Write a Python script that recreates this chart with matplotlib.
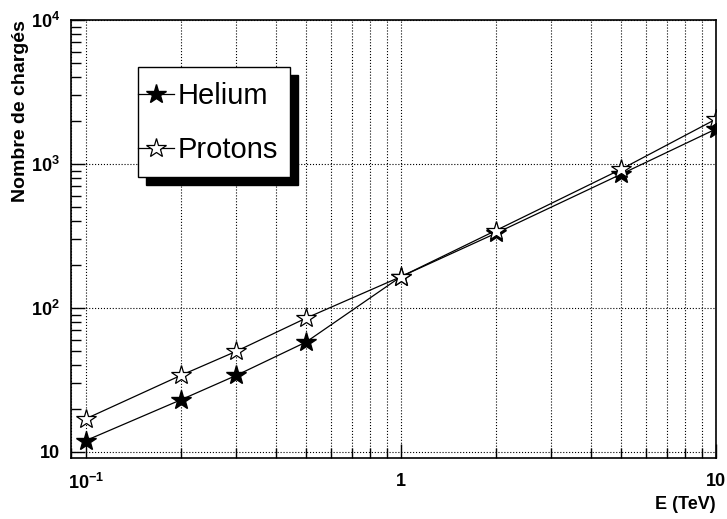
import numpy as np
import matplotlib.pyplot as plt
from matplotlib.patches import Rectangle
from matplotlib.ticker import FixedLocator, NullFormatter, LogLocator

plt.rcParams['font.family'] = ['Liberation Sans', 'DejaVu Sans']
plt.rcParams['mathtext.fontset'] = 'custom'
plt.rcParams['mathtext.bf'] = 'Liberation Sans:bold'
plt.rcParams['mathtext.rm'] = 'Liberation Sans:bold'

# data
energy = [0.1, 0.2, 0.3, 0.5, 1.0, 2.0, 5.0, 10.0]
helium = [12, 23, 34, 58, 165, 330, 850, 1750]
protons = [17, 34, 50, 85, 165, 345, 920, 2050]

x_ticks = [0.1, 1, 10]
x_ticklabels = ['$\\mathrm{10^{-1}}$', '1', '10']
y_ticks = [10, 100, 1000, 10000]
y_ticklabels = ['10', '$\\mathrm{10^{2}}$', '$\\mathrm{10^{3}}$', '$\\mathrm{10^{4}}$']

fig = plt.figure(figsize=(7.27, 5.19), dpi=100)
ax = fig.add_axes([71 / 727, 61 / 519, 645 / 727, 438 / 519])

ax.plot(energy, helium, '-', color='black', lw=0.9, marker='*', ms=15,
        mfc='black', mec='black', label='Helium')
ax.plot(energy, protons, '-', color='black', lw=0.9, marker='*', ms=15,
        mfc='white', mec='black', mew=0.9, label='Protons')

ax.set_xscale('log')
ax.set_yscale('log')
ax.set_xlim(0.0897, 10)
ax.set_ylim(9.08, 10000)

ax.xaxis.set_major_locator(FixedLocator(x_ticks))
ax.set_xticklabels(x_ticklabels, fontsize=13, fontweight='bold')
ax.xaxis.set_minor_locator(LogLocator(base=10, subs=np.arange(2, 10)))
ax.xaxis.set_minor_formatter(NullFormatter())
ax.yaxis.set_major_locator(FixedLocator(y_ticks))
ax.set_yticklabels(y_ticklabels, fontsize=13, fontweight='bold')
ax.yaxis.set_minor_locator(LogLocator(base=10, subs=np.arange(2, 10)))
ax.yaxis.set_minor_formatter(NullFormatter())

ax.tick_params(which='both', direction='in', top=False, right=False)
ax.tick_params(which='major', length=10, width=1, pad=11)
ax.tick_params(which='minor', length=7, width=1)
ax.tick_params(axis='y', which='major', pad=8)

ax.grid(True, which='major', axis='both', ls=':', color='black', lw=0.8)
ax.grid(True, which='minor', axis='x', ls=':', color='black', lw=0.8)
for s in ax.spines.values():
    s.set_linewidth(1.2)

fig.text(0.985, 0.012, 'E (TeV)', ha='right', va='bottom', fontsize=13, fontweight='bold')
fig.text(0.016, 0.961, 'Nombre de chargés', rotation=90, ha='left', va='top',
         fontsize=14, fontweight='bold')

# legend box with shadow (figure coords)
fig.patches.append(Rectangle((146 / 727, 1 - 185 / 519), 152 / 727, 110 / 519,
                             transform=fig.transFigure, facecolor='black', edgecolor='black', zorder=5))
fig.patches.append(Rectangle((138 / 727, 1 - 177 / 519), 152 / 727, 110 / 519,
                             transform=fig.transFigure, facecolor='white', edgecolor='black', lw=1, zorder=6))
leg = fig.legend(loc='upper left', bbox_to_anchor=(138 / 727, 1 - 82 / 519), frameon=False,
                 fontsize=21, handlelength=1.25, handletextpad=0.1, labelspacing=0.9,
                 borderaxespad=0, borderpad=0, markerscale=1.0)
leg.set_zorder(7)

fig.savefig('out.png', dpi=100)
